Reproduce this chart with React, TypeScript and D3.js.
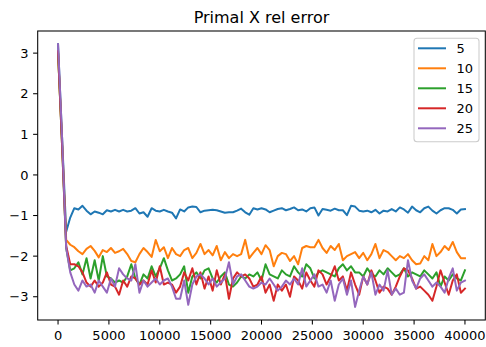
import React from "react";
import * as d3 from "d3";

const seriesNames = ["5", "10", "15", "20", "25"];
const colors = ["#1f77b4", "#ff7f0e", "#2ca02c", "#d62728", "#9467bd"];
const xStep = 400;
const xTicks = [0, 5000, 10000, 15000, 20000, 25000, 30000, 35000, 40000];
const yTicks = [-3, -2, -1, 0, 1, 2, 3];

const s5 = [
  3.22, 0.9, -1.4, -1.05, -0.82, -0.85, -0.76, -0.88, -0.97, -0.9,
  -0.93, -0.97, -0.87, -0.9, -0.86, -0.9, -0.86, -0.9, -0.88, -0.82,
  -0.95, -0.92, -1.03, -0.82, -0.88, -0.9, -0.86, -0.9, -0.93, -1.07,
  -0.85, -0.9, -0.8, -0.78, -0.79, -0.92, -0.88, -0.87, -0.86, -0.87,
  -0.9, -0.93, -0.92, -0.92, -0.88, -0.83, -0.92, -0.98, -0.82, -0.85,
  -0.82, -0.85, -0.92, -0.88, -0.84, -0.82, -0.87, -0.84, -0.8, -0.87,
  -0.85, -0.9, -0.82, -0.8, -1.0, -0.84, -0.86, -0.88, -0.83, -0.87,
  -0.87, -0.99, -0.76, -0.78, -0.88, -0.9, -0.88, -0.92, -0.86, -0.95,
  -0.88, -0.9, -0.84, -0.9, -0.8, -0.85, -0.93, -0.78, -0.87, -0.92,
  -0.82, -0.78, -0.88, -0.95, -0.87, -0.82, -0.82, -0.86, -0.95, -0.85,
  -0.84,
];
const s10 = [
  3.0, 0.8, -1.6, -1.72, -1.78, -1.88, -1.95, -1.82, -1.75, -1.87,
  -2.03, -1.85, -1.9, -1.8, -1.92, -1.88, -1.82, -1.95, -2.12, -2.15,
  -1.95, -1.8, -1.9, -2.02, -1.6, -1.88, -1.78, -2.05, -1.8, -1.95,
  -2.0, -1.85, -1.8, -2.05, -1.92, -1.7, -1.95, -1.85, -1.98, -1.75,
  -2.1, -1.9, -2.05, -1.95, -2.0, -1.95, -1.6, -2.05, -1.92, -1.8,
  -1.95, -1.73, -1.85, -2.25, -2.0, -1.92, -1.95, -2.12, -2.0, -2.2,
  -1.8, -1.75, -1.78, -1.78, -1.6, -1.8, -1.92, -1.75, -1.85, -1.7,
  -2.1, -2.0, -1.95, -1.9, -2.05, -1.92, -2.1, -1.95, -1.7, -2.05,
  -1.85, -1.9, -2.0, -2.1, -2.0, -2.05, -1.95, -2.1, -2.2, -2.18,
  -2.0, -2.1, -1.7, -2.0, -1.9, -1.75, -1.85, -1.65, -1.9, -2.05,
  -2.05,
];
const s15 = [
  3.0, 0.7, -1.8, -2.35, -2.3, -2.15, -2.45, -2.05, -2.55, -2.1,
  -2.6, -2.0, -2.5, -2.55, -2.65, -2.6, -2.65, -2.5, -2.2, -2.55,
  -2.7, -2.45, -2.55, -2.25, -2.5, -2.3, -2.05, -2.35, -2.6, -2.55,
  -2.45, -2.25, -2.9, -2.5, -2.4, -2.55, -2.35, -2.3, -2.55, -2.65,
  -2.5, -2.4, -2.7, -2.75, -2.65, -2.5, -2.55, -2.45, -2.5, -2.4,
  -2.6, -2.2, -2.45, -2.5, -2.55, -2.35, -2.45, -2.5, -2.25, -2.4,
  -2.5, -2.2, -2.3, -2.55, -2.4, -2.35, -2.4, -2.45, -2.5, -2.3,
  -2.2, -2.35, -2.25, -2.4, -2.4, -2.5, -2.3, -2.45, -2.5, -2.35,
  -2.45, -2.3, -2.4, -2.5, -2.45, -2.3, -2.5, -2.4, -2.45, -2.5,
  -2.35, -2.45, -2.55, -2.4, -2.75, -2.5, -2.6, -2.45, -2.55, -2.6,
  -2.35,
];
const s20 = [
  3.05, 0.7, -1.75, -2.2, -2.2, -2.25, -2.4, -2.65, -2.75, -2.6,
  -2.75, -2.65, -2.4, -2.7, -2.75, -2.95, -2.6, -2.75, -2.5, -2.55,
  -2.7, -2.6, -2.7, -2.35, -2.65, -2.25, -2.7, -2.65, -2.7, -2.9,
  -2.75, -2.4, -2.6, -2.3, -2.7, -2.4, -2.8, -2.5, -2.85, -2.35,
  -2.7, -2.45, -3.05, -2.55, -2.4, -2.5, -2.45, -2.55, -2.75, -2.7,
  -2.5, -2.9, -2.7, -3.1, -2.7, -2.85, -2.7, -3.0, -2.5, -2.6,
  -2.8, -2.4, -2.6, -2.75, -2.35, -2.45, -2.7, -2.5, -2.25, -2.6,
  -2.5, -2.85, -2.4, -2.7, -2.95, -2.5, -2.7, -2.35, -2.6, -2.9,
  -2.75, -2.8, -2.95, -2.75, -2.5, -2.3, -2.35, -2.55, -2.8, -2.75,
  -2.85, -2.95, -3.1, -2.75, -2.35, -2.65, -2.95, -2.6, -2.45, -2.9,
  -2.8,
];
const s25 = [
  3.22, 0.9, -1.8, -2.4, -2.7, -2.85, -2.6, -2.75, -2.7, -2.9,
  -2.6, -2.75, -2.9, -2.55, -2.75, -2.3, -2.45, -2.55, -2.6, -2.2,
  -2.9, -2.6, -2.75, -2.65, -2.55, -2.7, -2.6, -2.55, -2.75, -3.05,
  -3.05, -2.6, -3.2, -2.7, -2.5, -2.45, -2.55, -2.7, -2.55, -2.75,
  -2.65, -2.55, -2.15, -2.7, -2.5, -2.45, -2.6, -2.75, -2.8, -2.75,
  -2.65, -2.7, -2.55, -2.7, -2.85, -2.75, -2.6, -2.7, -2.55, -2.7,
  -2.3, -2.75, -2.6, -2.45, -2.75, -2.7, -2.9, -2.6, -3.1, -2.7,
  -2.55, -2.95, -2.6, -3.25, -2.85, -2.5, -2.7, -2.4, -2.95, -2.7,
  -2.85, -2.35, -2.95, -2.8, -2.95, -2.9, -2.1, -2.6, -2.8, -2.55,
  -2.45, -2.6, -2.75, -2.65, -2.75, -2.9, -2.55, -2.3, -2.85, -2.65,
  -2.6,
];
const seriesValues = [s5, s10, s15, s20, s25];

const W = 486;
const H = 347;
const left = 37.7;
const right = 485.3;
const top = 31;
const bottom = 320;
const font = "'DejaVu Sans', sans-serif";

const fmt = (v: number) => (v < 0 ? "\u2212" + Math.abs(v) : String(v));

export default function App() {
  const x = d3.scaleLinear().domain([-2000, 42000]).range([left, right]);
  const y = d3.scaleLinear().domain([-3.573, 3.545]).range([bottom, top]);
  const line = d3
    .line<number>()
    .x((_, i) => x(i * xStep))
    .y((d) => y(d));

  const tickLen = 4.6;
  const legX = 414;
  const legY = 38.3;
  const legW = 65;
  const legH = 103.4;

  return (
    <svg
      width={W}
      height={H}
      style={{ position: "absolute", left: 0, top: 0, background: "#fff" }}
      fontFamily={font}
    >
      <rect x={0} y={0} width={W} height={H} fill="#fff" />
      <defs>
        <clipPath id="plotclip">
          <rect x={left} y={top} width={right - left} height={bottom - top} />
        </clipPath>
      </defs>
      <text x={(left + right) / 2} y={22.7} textAnchor="middle" fontSize={16} fill="#000">
        Primal X rel error
      </text>
      <g clipPath="url(#plotclip)">
        {seriesValues.map((vals, k) => (
          <path
            key={k}
            d={line(vals) || ""}
            fill="none"
            stroke={colors[k]}
            strokeWidth={2}
            strokeLinejoin="round"
            strokeLinecap="square"
          />
        ))}
      </g>
      <rect
        x={left}
        y={top}
        width={right - left}
        height={bottom - top}
        fill="none"
        stroke="#000"
        strokeWidth={1.05}
      />
      {xTicks.map((t) => (
        <g key={"x" + t}>
          <line x1={x(t)} x2={x(t)} y1={bottom} y2={bottom + tickLen} stroke="#000" strokeWidth={1.05} />
          <text x={x(t)} y={bottom + 19.5} textAnchor="middle" fontSize={13} fill="#000">
            {fmt(t)}
          </text>
        </g>
      ))}
      {yTicks.map((t) => (
        <g key={"y" + t}>
          <line x1={left - tickLen} x2={left} y1={y(t)} y2={y(t)} stroke="#000" strokeWidth={1.05} />
          <text x={left - tickLen - 4.6} y={y(t) + 4.7} textAnchor="end" fontSize={13} fill="#000">
            {fmt(t)}
          </text>
        </g>
      ))}
      <rect
        x={legX}
        y={legY}
        width={legW}
        height={legH}
        rx={3}
        ry={3}
        fill="#fff"
        fillOpacity={0.8}
        stroke="#cccccc"
        strokeWidth={1.05}
      />
      {seriesNames.map((name, k) => {
        const cy = 48.3 + k * 20;
        return (
          <g key={"leg" + name}>
            <line x1={418} x2={446} y1={cy} y2={cy} stroke={colors[k]} strokeWidth={2} />
            <text x={456.5} y={cy + 4.7} fontSize={13} fill="#000">
              {name}
            </text>
          </g>
        );
      })}
    </svg>
  );
}
